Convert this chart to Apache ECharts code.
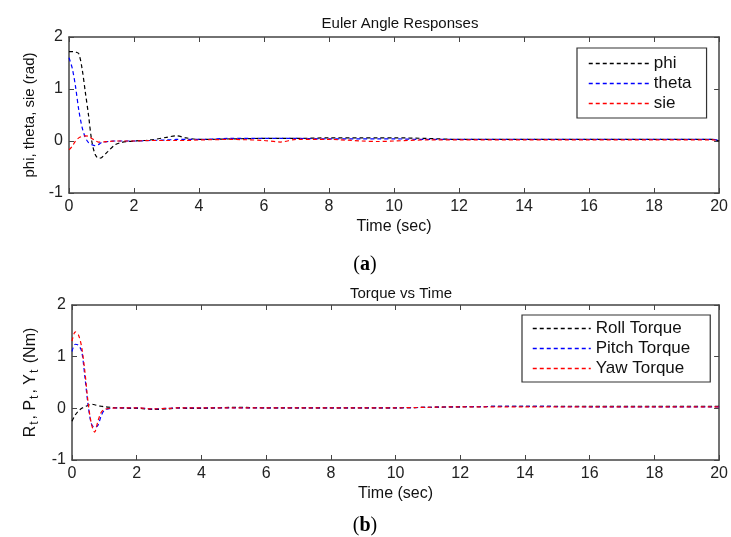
<!DOCTYPE html>
<html>
<head>
<meta charset="utf-8">
<script src="https://cdn.jsdelivr.net/npm/echarts@6/dist/echarts.min.js"></script>
<style>
  html, body { margin: 0; padding: 0; background: #fff; }
  #chart { width: 731px; height: 537px; }
</style>
</head>
<body>
<div id="chart"></div>
<script>
// time samples (sec), shared by all six traces
const time = [0, 0.1, 0.2, 0.3, 0.4, 0.5, 0.6, 0.7, 0.8, 0.9, 1.0, 1.2, 1.4, 1.6, 1.8, 2.0, 2.5, 3.0, 3.3, 3.6,
  4, 5, 6, 6.5, 7, 8, 9, 9.5, 10, 11, 12, 14, 16, 18, 19.8, 20]

// (a) Euler angles (rad)
const phi = [1.72, 1.72, 1.71, 1.68, 1.4, 0.95, 0.5, 0.0, -0.25, -0.33, -0.32, -0.2, -0.08, -0.03, -0.01, 0, 0.02, 0.07, 0.1, 0.06,
  0.03, 0.04, 0.05, 0.05, 0.05, 0.06, 0.06, 0.06, 0.06, 0.05, 0.03, 0.03, 0.03, 0.03, 0.03, 0.0]
const theta = [1.6, 1.4, 1.05, 0.6, 0.27, 0.07, -0.03, -0.07, -0.09, -0.07, -0.03, -0.01, 0, 0, 0, 0, 0.01, 0.02, 0.03, 0.03,
  0.03, 0.05, 0.05, 0.05, 0.05, 0.04, 0.04, 0.04, 0.04, 0.03, 0.03, 0.03, 0.03, 0.03, 0.03, 0.01]
const sie = [-0.17, -0.1, 0.0, 0.06, 0.09, 0.1, 0.09, 0.05, 0.01, -0.02, -0.02, -0.01, 0, 0, 0, 0, 0.01, 0.01, 0.01, 0.01,
  0.02, 0.03, 0.01, -0.02, 0.03, 0.03, 0.0, -0.01, 0.0, 0.02, 0.02, 0.02, 0.02, 0.02, 0.02, 0.01]

// (b) torques (Nm)
const roll = [-0.25, -0.13, -0.05, 0.0, 0.03, 0.06, 0.08, 0.07, 0.05, 0.04, 0.03, 0.02, 0.01, 0.01, 0, 0, -0.02, -0.01, 0.01, 0,
  0, 0.02, 0.01, 0.01, 0.01, 0.01, 0.01, 0.01, 0.01, 0.02, 0.03, 0.04, 0.04, 0.04, 0.04, 0.04]
const pitch = [1.1, 1.24, 1.22, 1.1, 0.6, 0.05, -0.3, -0.37, -0.33, -0.15, -0.04, 0, 0.01, 0.01, 0.01, 0.01, -0.01, 0, 0.01, 0.01,
  0.01, 0.01, 0.01, 0.01, 0.01, 0.01, 0.01, 0.01, 0.01, 0.02, 0.03, 0.04, 0.03, 0.03, 0.03, 0.03]
const yaw = [1.3, 1.48, 1.42, 1.18, 0.7, 0.1, -0.3, -0.46, -0.25, -0.08, -0.02, 0, 0.01, 0.01, 0.01, 0.01, -0.01, 0, 0.01, 0.01,
  0.01, 0.01, 0.01, 0.01, 0.01, 0.01, 0.01, 0.01, 0.01, 0.02, 0.03, 0.03, 0.03, 0.03, 0.03, 0.03]

const xTicks = [0, 2, 4, 6, 8, 10, 12, 14, 16, 18, 20]
const yTicks = [-1, 0, 1, 2]

const FONT = 'Liberation Sans, Arial, sans-serif'
const SERIF = 'Liberation Serif, Times New Roman, serif'
const AXIS_COLOR = '#444'
const DASH = [4, 3]

function pairs(values) {
  return time.map((t, i) => [t, values[i]])
}

function boxAxis(kind, gridIndex, main, extra) {
  const ticks = kind === 'x' ? xTicks : yTicks
  return Object.assign({
    type: 'value',
    gridIndex,
    min: ticks[0],
    max: ticks[ticks.length - 1],
    interval: ticks[1] - ticks[0],
    axisLine: { show: true, onZero: false, lineStyle: { color: AXIS_COLOR, width: 1.5 } },
    axisTick: { show: true, inside: true, length: 5, lineStyle: { color: AXIS_COLOR, width: 1 } },
    axisLabel: main ? { show: true, color: '#222', fontFamily: FONT, fontSize: 16, margin: 6 } : { show: false },
    splitLine: { show: false },
  }, extra)
}

function trace(name, values, color, gridIndex) {
  return {
    name,
    type: 'line',
    xAxisIndex: gridIndex * 2,
    yAxisIndex: gridIndex * 2,
    data: pairs(values),
    symbol: 'none',
    smooth: 0.3,
    lineStyle: { color, width: 1.2, type: DASH },
    itemStyle: { color },
    z: color === 'red' ? 3 : 2,
  }
}

const legendBase = {
  orient: 'vertical',
  backgroundColor: '#fff',
  borderColor: '#333',
  borderWidth: 1.2,
  itemHeight: 14,
  itemGap: 3,
  itemStyle: { opacity: 0 },
  lineStyle: { color: 'inherit', width: 1.5, type: DASH },
  textStyle: { color: '#111', fontFamily: FONT, fontSize: 17 },
}

const nameStyle = { fontFamily: FONT, fontSize: 16, color: '#111' }
const titleStyle = { fontFamily: FONT, fontSize: 15, fontWeight: 'normal', color: '#111' }
const captionStyle = {
  fontFamily: SERIF, fontSize: 20, fontWeight: 'normal', color: '#000',
  rich: { b: { fontFamily: SERIF, fontSize: 20, fontWeight: 'bold', color: '#000' } },
}

const chart = echarts.init(document.getElementById('chart'), null, { renderer: 'canvas' })

chart.setOption({
  animation: false,
  backgroundColor: '#fff',
  title: [
    { text: 'Euler Angle Responses', left: 395, top: 11, textAlign: 'center', textStyle: titleStyle },
    { text: 'Torque vs Time', left: 396, top: 281, textAlign: 'center', textStyle: titleStyle },
    { text: '({b|a})', left: 360, top: 250, textAlign: 'center', textStyle: captionStyle },
    { text: '({b|b})', left: 360, top: 511, textAlign: 'center', textStyle: captionStyle },
  ],
  grid: [
    { left: 69, right: 10, top: 37, height: 156 },
    { left: 72, right: 6, top: 305, height: 155 },
  ],
  xAxis: [
    boxAxis('x', 0, true, { position: 'bottom', name: 'Time (sec)', nameLocation: 'middle', nameGap: 26, nameTextStyle: nameStyle }),
    boxAxis('x', 0, false, { position: 'top' }),
    boxAxis('x', 1, true, { position: 'bottom', name: 'Time (sec)', nameLocation: 'middle', nameGap: 26, nameTextStyle: nameStyle }),
    boxAxis('x', 1, false, { position: 'top' }),
  ],
  yAxis: [
    boxAxis('y', 0, true, { position: 'left', name: 'phi, theta, sie (rad)', nameLocation: 'middle', nameGap: 32,
      nameTextStyle: { fontFamily: FONT, fontSize: 15, color: '#111' } }),
    boxAxis('y', 0, false, { position: 'right' }),
    boxAxis('y', 1, true, { position: 'left', name: 'R{s|t}, P{s|t}, Y{s|t} (Nm)', nameLocation: 'middle', nameGap: 30,
      nameTextStyle: { fontFamily: FONT, fontSize: 16, color: '#111',
        rich: { s: { fontFamily: FONT, fontSize: 12, color: '#111', verticalAlign: 'bottom', padding: [9, 2, 0, 1] } } } }),
    boxAxis('y', 1, false, { position: 'right' }),
  ],
  legend: [
    Object.assign({}, legendBase, { data: ['phi', 'theta', 'sie'], left: 577, top: 48, itemWidth: 60,
      padding: [7, 15, 6, 11] }),
    Object.assign({}, legendBase, { data: ['Roll Torque', 'Pitch Torque', 'Yaw Torque'], left: 522, top: 315, itemWidth: 58,
      padding: [5, 20, 5, 10] }),
  ],
  series: [
    trace('phi', phi, 'black', 0),
    trace('theta', theta, 'blue', 0),
    trace('sie', sie, 'red', 0),
    trace('Roll Torque', roll, 'black', 1),
    trace('Pitch Torque', pitch, 'blue', 1),
    trace('Yaw Torque', yaw, 'red', 1),
  ],
})
</script>
</body>
</html>
